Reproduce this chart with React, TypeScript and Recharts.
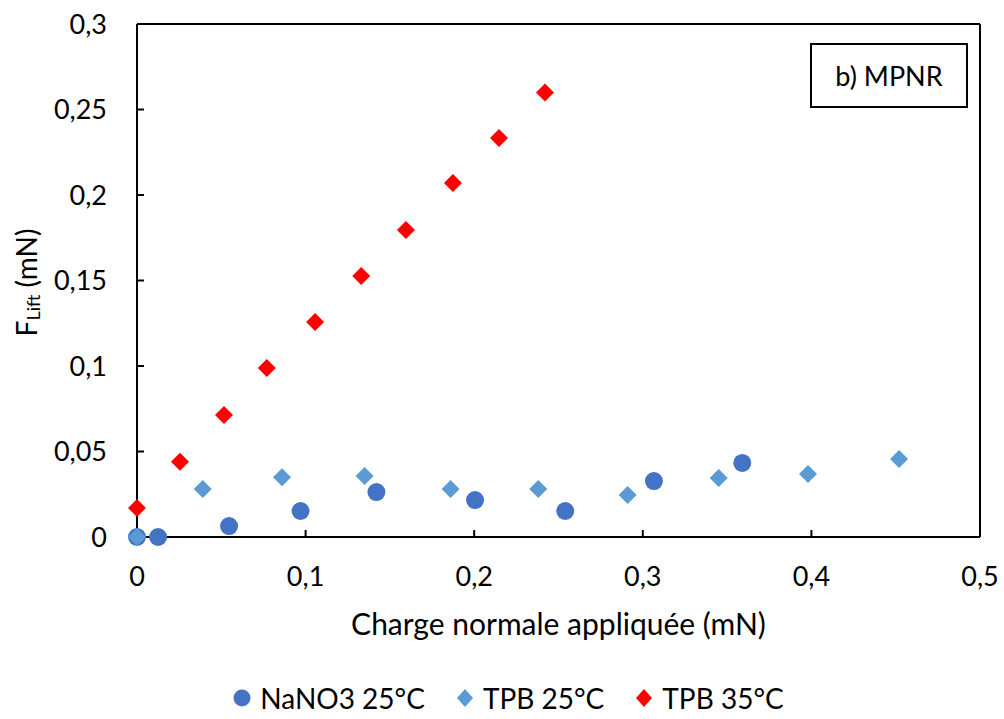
import React from 'react';
import {
  ScatterChart,
  Scatter,
  XAxis,
  YAxis,
  ReferenceLine,
  Legend,
} from 'recharts';

const nano3X = [0, 0.0125, 0.0546, 0.097, 0.142, 0.2005, 0.254, 0.3066, 0.359];
const nano3Y = [0, 0, 0.0064, 0.0152, 0.0263, 0.0216, 0.0152, 0.0327, 0.0433];

const tpb25X = [0, 0.039, 0.086, 0.135, 0.186, 0.238, 0.291, 0.345, 0.398, 0.452];
const tpb25Y = [0, 0.028, 0.035, 0.0357, 0.028, 0.028, 0.0246, 0.0345, 0.0368, 0.0456];

const tpb35X = [0, 0.0255, 0.0516, 0.077, 0.1056, 0.133, 0.1595, 0.1874, 0.2147, 0.242];
const tpb35Y = [0.017, 0.044, 0.0713, 0.0988, 0.1257, 0.1526, 0.1795, 0.207, 0.2333, 0.26];

const xTicks = [0, 0.1, 0.2, 0.3, 0.4, 0.5];
const yTicks = [0, 0.05, 0.1, 0.15, 0.2, 0.25, 0.3];

const seriesNames = ['NaNO3 25°C', 'TPB 25°C', 'TPB 35°C'];
const colors = ['#4472C4', '#5B9BD5', '#FF0000'];

const toPoints = (xs: number[], ys: number[]) => xs.map((x, i) => ({ x, y: ys[i] }));

const fmt = (v: number) => String(v).replace('.', ',');
const FONT = 'Lato, "Noto Sans", sans-serif';

const Circle = (props: any) => (
  <circle cx={props.cx} cy={props.cy} r={9} fill={colors[0]} />
);

const makeDiamond = (color: string) => (props: any) => {
  const { cx, cy } = props;
  const h = 9;
  return (
    <polygon
      points={`${cx},${cy - h} ${cx + h},${cy} ${cx},${cy + h} ${cx - h},${cy}`}
      fill={color}
    />
  );
};

const LegendContent = () => (
  <div
    style={{
      display: 'flex',
      justifyContent: 'center',
      alignItems: 'center',
      height: 50,
      gap: 30,
      fontFamily: FONT,
      fontSize: 28,
      color: '#000',
      paddingTop: 4,
      paddingLeft: 36,
    }}
  >
    {seriesNames.map((name, i) => (
      <div key={name} style={{ display: 'flex', alignItems: 'center', gap: 8 }}>
        <svg width={20} height={20}>
          {i === 0 ? (
            <circle cx={10} cy={10} r={8.5} fill={colors[0]} />
          ) : (
            <polygon points="10,1 18,10 10,19 2,10" fill={colors[i]} />
          )}
        </svg>
        <span>{name}</span>
      </div>
    ))}
  </div>
);

const YLabel = (props: any) => {
  const { viewBox } = props;
  const cy = viewBox.y + viewBox.height / 2 + 2;
  return (
    <text
      x={26}
      y={cy}
      transform={`rotate(-90, 26, ${cy})`}
      textAnchor="middle"
      dominantBaseline="central"
      fontFamily={FONT}
      fontSize={28}
      fill="#000"
    >
      F
      <tspan fontSize={18} dy={7}>
        Lift
      </tspan>
      <tspan dy={-7}> (mN)</tspan>
    </text>
  );
};

export default function App() {
  return (
    <div style={{ position: 'absolute', left: 0, top: 0, width: 1004, height: 719, background: '#fff' }}>
      <ScatterChart
        width={1004}
        height={719}
        margin={{ top: 24, right: 24, bottom: 0, left: 0 }}
      >
        <XAxis
          type="number"
          dataKey="x"
          domain={[0, 0.5]}
          ticks={xTicks}
          tickFormatter={fmt}
          height={132}
          stroke="#000"
          tickSize={-7}
          tickMargin={37}
          tick={{ fill: '#000', fontSize: 27, fontFamily: FONT }}
          axisLine={{ stroke: '#000', strokeWidth: 2 }}
          tickLine={{ stroke: '#000', strokeWidth: 2 }}
          label={{
            value: 'Charge normale appliquée (mN)',
            position: 'insideBottom',
            offset: 34,
            fill: '#000',
            fontSize: 30,
            fontFamily: FONT,
          }}
        />
        <YAxis
          type="number"
          dataKey="y"
          domain={[0, 0.3]}
          ticks={yTicks}
          tickFormatter={fmt}
          width={137}
          stroke="#000"
          tickSize={-7}
          tickMargin={37}
          tick={{ fill: '#000', fontSize: 27, fontFamily: FONT }}
          axisLine={{ stroke: '#000', strokeWidth: 2 }}
          tickLine={{ stroke: '#000', strokeWidth: 2 }}
          label={<YLabel />}
        />
        <ReferenceLine y={0.3} stroke="#000" strokeWidth={2} />
        <ReferenceLine x={0.5} stroke="#000" strokeWidth={2} />
        <Legend
          verticalAlign="bottom"
          wrapperStyle={{ height: 50 }}
          content={<LegendContent />}
        />
        <Scatter
          name={seriesNames[0]}
          data={toPoints(nano3X, nano3Y)}
          fill={colors[0]}
          shape={Circle}
          isAnimationActive={false}
        />
        <Scatter
          name={seriesNames[1]}
          data={toPoints(tpb25X, tpb25Y)}
          fill={colors[1]}
          shape={makeDiamond(colors[1])}
          isAnimationActive={false}
        />
        <Scatter
          name={seriesNames[2]}
          data={toPoints(tpb35X, tpb35Y)}
          fill={colors[2]}
          shape={makeDiamond(colors[2])}
          isAnimationActive={false}
        />
      </ScatterChart>
      <div
        style={{
          position: 'absolute',
          left: 810,
          top: 43,
          width: 154,
          height: 61,
          border: '2px solid #000',
          display: 'flex',
          alignItems: 'center',
          justifyContent: 'center',
          fontFamily: FONT,
          fontSize: 27,
          color: '#000',
          background: '#fff',
        }}
      >
        b) MPNR
      </div>
    </div>
  );
}
